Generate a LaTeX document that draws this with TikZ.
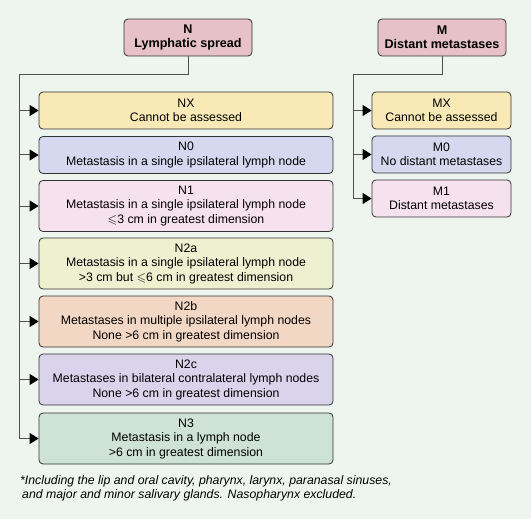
\documentclass[tikz,border=0pt]{standalone}
\usepackage{fontspec}
\setmainfont{Liberation Sans}
\usepackage{xcolor}
\usepackage{amssymb}
\usetikzlibrary{arrows.meta, positioning, calc}

\definecolor{bgcol}{RGB}{238,245,239}
\definecolor{headcol}{RGB}{230,193,200}
\definecolor{xcol}{RGB}{248,233,183}
\definecolor{zerocol}{RGB}{214,216,240}
\definecolor{onecol}{RGB}{246,226,238}
\definecolor{twoacol}{RGB}{238,241,208}
\definecolor{twobcol}{RGB}{242,215,197}
\definecolor{twoccol}{RGB}{218,211,236}
\definecolor{threecol}{RGB}{206,227,214}
\definecolor{linecol}{RGB}{80,80,80}

\begin{document}
\begin{tikzpicture}[x=1pt, y=-1pt,
  box/.style={draw=black!80, line width=0.8pt, rounded corners=4pt,
              minimum width=#1, align=center, inner sep=0pt,
              font=\fontsize{12.3}{14.5}\selectfont},
  nbox/.style={box=294pt, minimum height=37pt},
  nboxx/.style={box=294pt, minimum height=51pt},
  mbox/.style={box=139pt, minimum height=37pt},
  head/.style={box=128pt, minimum height=37pt, fill=headcol,
               font=\bfseries\fontsize{12.6}{14}\selectfont},
  link/.style={draw=linecol, line width=1pt},
  arr/.style={link, -{Triangle[length=9pt,width=11pt,color=black,fill=black]}},
]
\fill[bgcol] (0,0) rectangle (531,519);
\useasboundingbox (0,0) rectangle (531,519);

% headers
\node[head] (nhead) at (188,37.5) {N\\Lymphatic spread};
\node[head] (mhead) at (442,37.5) {M\\Distant metastases};

% N categories
\node[nbox,  fill=xcol]     (nx)  at (186,110.5) {NX\\Cannot be assessed};
\node[nbox,  fill=zerocol]  (n0)  at (186,155)   {N0\\Metastasis in a single ipsilateral lymph node};
\node[nboxx, fill=onecol]   (n1)  at (186,206)   {N1\\Metastasis in a single ipsilateral lymph node\\$\leqslant$3 cm in greatest dimension};
\node[nboxx, fill=twoacol]  (n2a) at (186,263.5) {N2a\\Metastasis in a single ipsilateral lymph node\\>3 cm but $\leqslant$6 cm in greatest dimension};
\node[nboxx, fill=twobcol]  (n2b) at (186,321.5) {N2b\\Metastases in multiple ipsilateral lymph nodes\\None >6 cm in greatest dimension};
\node[nboxx, fill=twoccol]  (n2c) at (186,379.5) {N2c\\Metastases in bilateral contralateral lymph nodes\\None >6 cm in greatest dimension};
\node[nboxx, fill=threecol] (n3)  at (186,438.5) {N3\\Metastasis in a lymph node\\>6 cm in greatest dimension};

% M categories
\node[mbox, fill=xcol]    (mx) at (441.5,110.5) {MX\\Cannot be assessed};
\node[mbox, fill=zerocol] (m0) at (441.5,154.5) {M0\\No distant metastases};
\node[mbox, fill=onecol]  (m1) at (441.5,198.5) {M1\\Distant metastases};

% connectors
\coordinate (nbus) at (19,75);
\coordinate (mbus) at (353,75);
\draw[arr] (nhead.south) |- (nbus) |- (n3.west);
\foreach \n in {nx,n0,n1,n2a,n2b,n2c}
  \draw[arr] (nbus |- \n.west) -- (\n.west);
\draw[arr] (mhead.south) |- (mbus) |- (m1.west);
\foreach \m in {mx,m0}
  \draw[arr] (mbus |- \m.west) -- (\m.west);

% footnote
\node[anchor=west, align=left, inner sep=0pt,
      font=\itshape\fontsize{12.3}{13.5}\selectfont] (note) at (20,488.5)
  {*Including the lip and oral cavity, pharynx, larynx, paranasal sinuses,\\
   \hspace{2pt}and major and minor salivary glands. Nasopharynx excluded.};
\end{tikzpicture}
\end{document}
